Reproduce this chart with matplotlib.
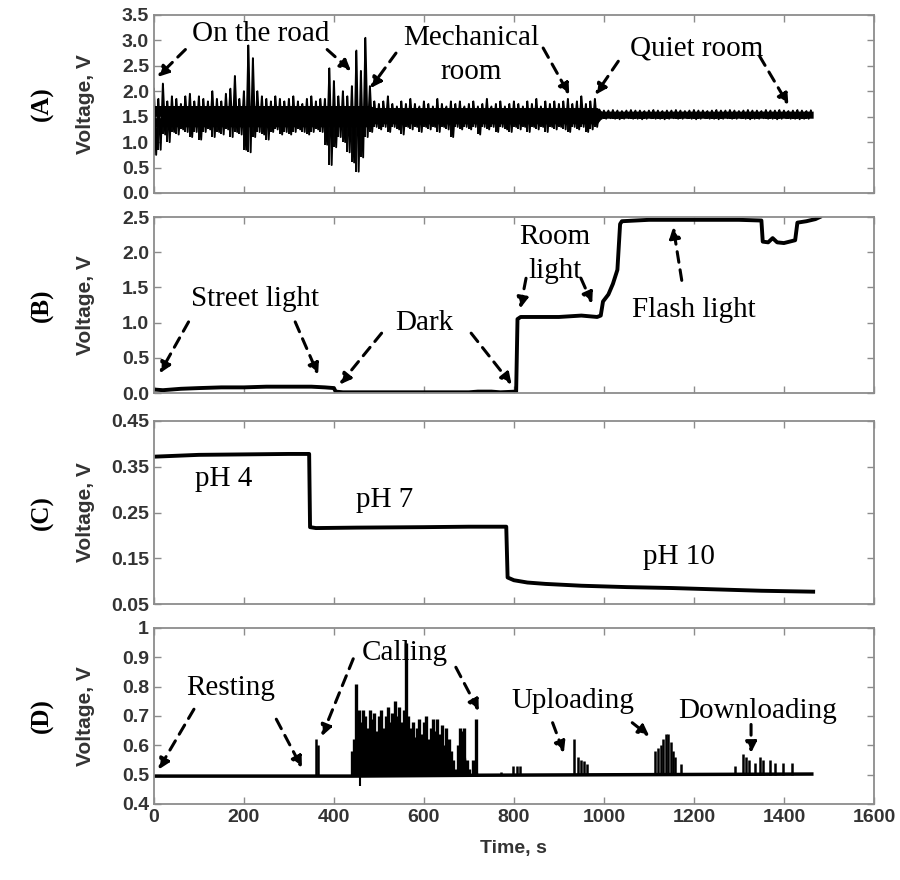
import numpy as np
import matplotlib
matplotlib.use('Agg')
import matplotlib.pyplot as plt

# --- data ---
# (A) sound sensor: upper / lower edges of the noise, every 10 s from 0 s
a_time = np.arange(0, 1470, 10)
a_upper = [2.05, 1.85, 2.15, 1.8, 1.9, 1.85, 1.75, 1.9, 1.95, 1.8,
           1.9, 1.85, 1.8, 2.0, 1.85, 1.8, 1.95, 2.05, 2.3, 1.85,
           2.0, 2.9, 2.65, 2.0, 1.9, 1.85, 1.8, 1.9, 1.85, 1.8,
           1.85, 1.9, 1.8, 1.75, 1.85, 1.9, 1.8, 1.85, 1.85, 2.45,
           2.2, 1.9, 2.0, 1.9, 2.1, 2.8, 2.4, 3.05, 2.1, 1.8,
           1.75, 1.8, 1.9, 1.75, 1.7, 1.8, 1.75, 1.85, 1.75, 1.7,
           1.8, 1.75, 1.7, 1.85, 1.75, 1.7, 1.8, 1.75, 1.8, 1.7,
           1.75, 1.8, 1.7, 1.75, 1.85, 1.7, 1.75, 1.8, 1.7, 1.75,
           1.8, 1.75, 1.7, 1.8, 1.75, 1.85, 1.7, 1.8, 1.75, 1.8,
           1.75, 1.8, 1.85, 1.75, 1.8, 1.9, 1.75, 1.8, 1.85, 1.64,
           1.62, 1.62, 1.63, 1.62, 1.61, 1.62, 1.63, 1.62, 1.62, 1.61,
           1.62, 1.63, 1.62, 1.61, 1.62, 1.62, 1.63, 1.62, 1.61, 1.62,
           1.63, 1.62, 1.62, 1.61, 1.62, 1.63, 1.62, 1.62, 1.63, 1.62,
           1.61, 1.62, 1.63, 1.62, 1.62, 1.61, 1.63, 1.62, 1.62, 1.63,
           1.62, 1.61, 1.62, 1.63, 1.62, 1.61, 1.62]
a_lower = [0.75, 0.85, 1.15, 1.0, 1.2, 1.15, 1.25, 1.2, 1.1, 1.2,
           1.05, 1.2, 1.25, 1.1, 1.2, 1.15, 1.25, 1.1, 1.2, 1.15,
           0.85, 0.8, 1.1, 1.2, 1.15, 1.05, 1.2, 1.25, 1.15, 1.2,
           1.15, 1.2, 1.25, 1.2, 1.15, 1.2, 1.25, 1.2, 0.95, 0.55,
           0.9, 1.1, 1.0, 0.8, 0.6, 0.42, 0.7, 1.1, 1.2, 1.3,
           1.25, 1.3, 1.2, 1.3, 1.25, 1.15, 1.3, 1.25, 1.3, 1.2,
           1.3, 1.25, 1.3, 1.2, 1.3, 1.25, 1.1, 1.3, 1.25, 1.3,
           1.25, 1.3, 1.15, 1.3, 1.25, 1.3, 1.2, 1.3, 1.25, 1.2,
           1.3, 1.25, 1.3, 1.2, 1.3, 1.25, 1.3, 1.2, 1.3, 1.25,
           1.3, 1.25, 1.2, 1.3, 1.25, 1.3, 1.2, 1.25, 1.3, 1.46,
           1.46, 1.47, 1.46, 1.45, 1.46, 1.47, 1.46, 1.46, 1.45, 1.46,
           1.47, 1.46, 1.46, 1.45, 1.46, 1.47, 1.46, 1.46, 1.47, 1.46,
           1.45, 1.46, 1.47, 1.46, 1.46, 1.45, 1.46, 1.47, 1.46, 1.46,
           1.47, 1.46, 1.45, 1.46, 1.46, 1.47, 1.46, 1.46, 1.45, 1.46,
           1.47, 1.46, 1.46, 1.45, 1.46, 1.46, 1.47]
# solid core of the band (road, mechanical room, quiet room)
a_core_time = [0, 480, 490, 985, 995, 1465]
a_core_low = [1.3, 1.3, 1.36, 1.36, 1.47, 1.47]
a_core_high = [1.72, 1.72, 1.68, 1.68, 1.61, 1.61]

# (B) light sensor
b_time = [0, 20, 40, 60, 100, 150, 200, 250, 300, 350, 380, 400, 404, 420, 500,
          600, 700, 720, 750, 770, 805, 808, 815, 900, 950, 985, 993, 998, 1010,
          1020, 1030, 1036, 1040, 1100, 1200, 1300, 1350, 1353, 1365, 1375, 1385,
          1400, 1425, 1430, 1450, 1470, 1480]
b_volt = [0.05, 0.04, 0.05, 0.06, 0.07, 0.08, 0.08, 0.09, 0.09, 0.09, 0.08, 0.07,
          0.02, 0.01, 0.01, 0.01, 0.01, 0.02, 0.02, 0.01, 0.02, 1.05, 1.08, 1.08,
          1.1, 1.08, 1.1, 1.3, 1.4, 1.55, 1.75, 2.4, 2.44, 2.46, 2.46, 2.46, 2.45,
          2.15, 2.14, 2.2, 2.14, 2.13, 2.17, 2.42, 2.44, 2.47, 2.5]

# (C) pH sensor
c_time = [0, 50, 100, 200, 300, 345, 347, 360, 450, 600, 700, 783, 786, 800,
          830, 870, 950, 1050, 1150, 1250, 1350, 1465]
c_volt = [0.372, 0.374, 0.376, 0.377, 0.378, 0.378, 0.218, 0.216, 0.217, 0.218,
          0.219, 0.219, 0.108, 0.102, 0.097, 0.094, 0.090, 0.087, 0.085, 0.082,
          0.079, 0.077]

# (D) phone activity: baseline and spikes
d_base_time = [0, 440, 725, 1462]
d_base_volt = [0.495, 0.495, 0.498, 0.502]
d_call_time = np.arange(440, 725, 5)
d_call_volt = [0.58, 0.62, 0.81, 0.72, 0.68, 0.72, 0.7, 0.66, 0.72, 0.69,
               0.71, 0.65, 0.7, 0.72, 0.66, 0.7, 0.73, 0.68, 0.71, 0.75,
               0.7, 0.73, 0.68, 0.72, 0.95, 0.7, 0.66, 0.68, 0.63, 0.66,
               0.69, 0.64, 0.68, 0.7, 0.62, 0.66, 0.69, 0.65, 0.69, 0.64,
               0.67, 0.6, 0.66, 0.62, 0.58, 0.55, 0.52, 0.6, 0.66, 0.65,
               0.66, 0.55, 0.52, 0.5, 0.55, 0.69, 0.5]
# lower floor of the dense "calling" block
d_call_floor = [0.55, 0.6, 0.64, 0.62, 0.6, 0.64, 0.62, 0.6, 0.64, 0.62,
                0.63, 0.6, 0.62, 0.64, 0.6, 0.62, 0.64, 0.62, 0.63, 0.64,
                0.62, 0.64, 0.6, 0.62, 0.64, 0.62, 0.6, 0.62, 0.58, 0.6,
                0.62, 0.58, 0.62, 0.62, 0.57, 0.6, 0.62, 0.58, 0.62, 0.57,
                0.6, 0.55, 0.58, 0.55, 0.53, 0.52, 0.5, 0.53, 0.6, 0.58,
                0.6, 0.52, 0.5, 0.5, 0.52, 0.55, 0.5]
d_spike_time = [361, 365, 772, 798, 806, 814, 933, 943, 950, 956, 962, 1114,
                1120, 1126, 1132, 1138, 1143, 1148, 1153, 1158, 1171, 1291, 1310,
                1316, 1323, 1335, 1346, 1354, 1368, 1380, 1399, 1418]
d_spike_volt = [0.62, 0.6, 0.51, 0.53, 0.53, 0.53, 0.62, 0.56, 0.55, 0.545,
                0.535, 0.58, 0.59, 0.6, 0.62, 0.64, 0.64, 0.61, 0.58, 0.56, 0.535,
                0.53, 0.57, 0.56, 0.55, 0.54, 0.56, 0.55, 0.55, 0.54, 0.54, 0.54]

panel_tags = ['(A)', '(B)', '(C)', '(D)']
x_ticks = [0, 200, 400, 600, 800, 1000, 1200, 1400, 1600]

# --- figure ---
serif = 'Liberation Serif'
sans = 'Liberation Sans'
fig = plt.figure(figsize=(9, 8.8), dpi=100)

boxes = [[0.171, 0.7807, 0.8, 0.2023],
         [0.171, 0.5534, 0.8, 0.2000],
         [0.171, 0.3136, 0.8, 0.2080],
         [0.171, 0.0864, 0.8, 0.2000]]
axes = [fig.add_axes(b) for b in boxes]

for i, ax in enumerate(axes):
    ax.set_xlim(0, 1600)
    ax.set_xticks(x_ticks)
    for s in ax.spines.values():
        s.set_color('#8c8c8c')
        s.set_linewidth(1.3)
    ax.tick_params(direction='in', length=5, width=1, color='#8c8c8c',
                   top=True, right=True, labelsize=14, labelcolor='#333333')
    if i < 3:
        ax.tick_params(labelbottom=False)
    y_mid = boxes[i][1] + boxes[i][3] / 2
    fig.text(0.095, y_mid, 'Voltage, V', rotation=90, ha='center', va='center',
             fontsize=15, fontweight='bold', family=sans, color='#333333')
    fig.text(0.047, y_mid, panel_tags[i], rotation=90, ha='center', va='center',
             fontsize=18, fontweight='bold', family=serif)

arrow = dict(arrowstyle='-|>', color='black', lw=2.2, linestyle=(0, (3.5, 2.5)),
             mutation_scale=16, shrinkA=0, shrinkB=0)


def label(ax, text, xy, fs=21):
    ax.text(xy[0], xy[1], text, ha='center', va='center', fontsize=fs,
            family=serif, linespacing=1.4)


def dashed(ax, start, end):
    ax.annotate('', xy=end, xytext=start, arrowprops=arrow)


# (A)
ax = axes[0]
zig_t = np.column_stack([a_time, a_time + 5]).ravel()
zig_v = np.column_stack([a_upper, a_lower]).ravel()
ax.fill_between(a_core_time, a_core_low, a_core_high, color='black', lw=0)
ax.vlines(a_time, a_lower, a_upper, color='black', lw=1.4)
ax.plot(zig_t[:-1], zig_v[:-1], color='black', lw=1.4)
ax.set_ylim(0, 3.5)
ax.set_yticks(np.arange(0, 3.51, 0.5))
ax.set_yticklabels([f'{v:.1f}' for v in np.arange(0, 3.51, 0.5)])
label(ax, 'On the road', (237, 3.12))
dashed(ax, (70, 2.82), (8, 2.28))
dashed(ax, (385, 2.82), (438, 2.4))
label(ax, 'Mechanical\nroom', (705, 2.72))
dashed(ax, (538, 2.75), (481, 2.06))
dashed(ax, (865, 2.85), (923, 1.93))
label(ax, 'Quiet room', (1205, 2.85))
dashed(ax, (1032, 2.59), (981, 1.93))
dashed(ax, (1346, 2.69), (1410, 1.73))

# (B)
ax = axes[1]
ax.plot(b_time, b_volt, color='black', lw=2.8)
ax.set_ylim(0, 2.5)
ax.set_yticks(np.arange(0, 2.51, 0.5))
ax.set_yticklabels([f'{v:.1f}' for v in np.arange(0, 2.51, 0.5)])
label(ax, 'Street light', (224, 1.34))
dashed(ax, (77, 1.01), (13, 0.28))
dashed(ax, (314, 1.01), (365, 0.26))
label(ax, 'Dark', (600, 0.99))
dashed(ax, (506, 0.85), (413, 0.12))
dashed(ax, (705, 0.85), (795, 0.12))
label(ax, 'Room\nlight', (891, 1.97))
dashed(ax, (827, 1.63), (814, 1.2))
dashed(ax, (949, 1.63), (974, 1.27))
label(ax, 'Flash light', (1199, 1.18))
dashed(ax, (1173, 1.6), (1154, 2.36))

# (C)
ax = axes[2]
ax.plot(c_time, c_volt, color='black', lw=2.8)
ax.set_ylim(0.05, 0.45)
ax.set_yticks([0.05, 0.15, 0.25, 0.35, 0.45])
ax.set_yticklabels(['0.05', '0.15', '0.25', '0.35', '0.45'])
label(ax, 'pH 4', (154, 0.324))
label(ax, 'pH 7', (513, 0.278))
label(ax, 'pH 10', (1167, 0.152))

# (D)
ax = axes[3]
ax.plot(d_base_time, d_base_volt, color='black', lw=2.5)
ax.fill_between(d_call_time, 0.495, d_call_floor, color='black', lw=0)
ax.vlines(d_call_time, 0.495, d_call_volt, color='black', lw=2.4)
ax.vlines([458], 0.46, 0.5, color='black', lw=1.5)
ax.vlines(d_spike_time, 0.5, d_spike_volt, color='black', lw=1.8)
ax.set_ylim(0.4, 1.0)
ax.set_yticks([0.4, 0.5, 0.6, 0.7, 0.8, 0.9, 1.0])
ax.set_yticklabels(['0.4', '0.5', '0.6', '0.7', '0.8', '0.9', '1'])
ax.set_xticklabels([str(t) for t in x_ticks])
ax.set_xlabel('Time, s', fontsize=14, fontweight='bold', family=sans,
              color='#333333', labelpad=10)
label(ax, 'Resting', (171, 0.797))
dashed(ax, (89, 0.723), (10, 0.517))
dashed(ax, (272, 0.689), (329, 0.523))
label(ax, 'Calling', (557, 0.915))
dashed(ax, (443, 0.895), (373, 0.631))
dashed(ax, (671, 0.866), (722, 0.717))
label(ax, 'Uploading', (930, 0.752))
dashed(ax, (886, 0.677), (911, 0.574))
dashed(ax, (1063, 0.677), (1101, 0.631))
label(ax, 'Downloading', (1342, 0.717))
dashed(ax, (1327, 0.671), (1327, 0.574))

for ax in axes:
    for lab in ax.get_xticklabels() + ax.get_yticklabels():
        lab.set_fontfamily(sans)
        lab.set_fontweight('bold')

fig.savefig('out.png', dpi=100)
